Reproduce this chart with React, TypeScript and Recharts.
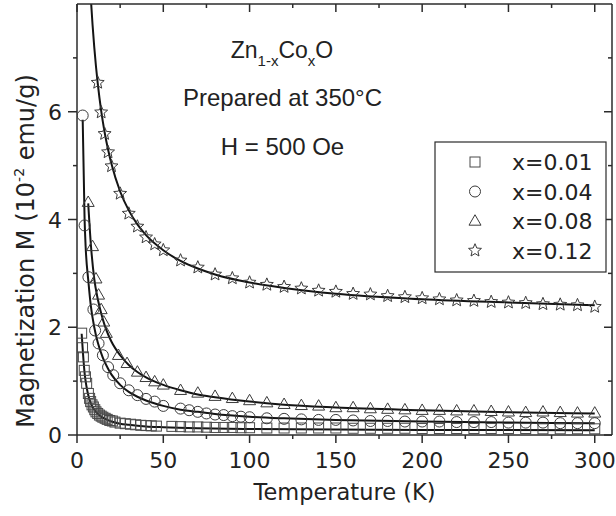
import { ComposedChart, Line, Scatter, XAxis, YAxis } from 'recharts'

// Zn(1-x)Co(x)O, prepared at 350 °C, H = 500 Oe — M(T) per Co content, with fitted curves
const sqT = [2.7, 3.2, 3.7, 4.2, 4.9, 5.6, 6.6, 7.3, 7.9, 8.7, 9.5, 10.3, 11, 12, 13, 14, 15, 16.3, 17.5, 19, 20.5, 22, 25, 28, 31, 34, 37, 40, 43, 46, 55, 60, 65, 70, 75, 80, 85, 90, 95, 100, 110, 120, 130, 140, 150, 160, 170, 180, 190, 200, 210, 220, 230, 240, 250, 260, 270, 280, 290, 300]
const sqM = [1.89, 1.62, 1.45, 1.2, 1.08, 0.96, 0.77, 0.68, 0.62, 0.56, 0.52, 0.47, 0.43, 0.4, 0.37, 0.35, 0.33, 0.31, 0.29, 0.27, 0.26, 0.24, 0.22, 0.21, 0.2, 0.19, 0.18, 0.175, 0.17, 0.165, 0.16, 0.155, 0.15, 0.15, 0.145, 0.14, 0.14, 0.14, 0.135, 0.135, 0.13, 0.13, 0.13, 0.13, 0.13, 0.125, 0.125, 0.125, 0.125, 0.12, 0.12, 0.12, 0.12, 0.12, 0.12, 0.12, 0.115, 0.115, 0.115, 0.115]

const ciT = [3.3, 4.4, 6.6, 9.5, 10.5, 12.5, 15, 18, 21, 25, 30, 35, 40, 45, 50, 60, 65, 70, 75, 80, 85, 90, 95, 100, 110, 120, 130, 140, 150, 160, 170, 180, 190, 200, 210, 220, 230, 240, 250, 260, 270, 280, 290, 300]
const ciM = [5.93, 3.89, 2.93, 2.33, 1.94, 1.7, 1.48, 1.26, 1.11, 0.96, 0.83, 0.74, 0.67, 0.62, 0.54, 0.49, 0.46, 0.43, 0.4, 0.38, 0.37, 0.35, 0.34, 0.33, 0.31, 0.3, 0.29, 0.28, 0.28, 0.27, 0.26, 0.26, 0.25, 0.25, 0.25, 0.24, 0.24, 0.24, 0.23, 0.23, 0.23, 0.22, 0.22, 0.22]

const trT = [6.5, 9, 11, 12.5, 14, 15.5, 17, 24, 29, 35, 40, 45, 50, 60, 70, 80, 90, 100, 110, 120, 130, 140, 150, 160, 170, 180, 190, 200, 210, 220, 230, 240, 250, 260, 270, 280, 290, 300]
const trM = [4.32, 3.5, 2.9, 2.6, 2.33, 2.1, 1.89, 1.48, 1.33, 1.17, 1.07, 0.99, 0.93, 0.83, 0.78, 0.72, 0.68, 0.64, 0.6, 0.57, 0.55, 0.54, 0.51, 0.51, 0.49, 0.48, 0.47, 0.46, 0.46, 0.45, 0.45, 0.44, 0.43, 0.42, 0.43, 0.42, 0.41, 0.41]

const stT = [12, 14, 16, 18, 20, 25, 30, 35, 40, 45, 50, 60, 70, 80, 90, 100, 110, 120, 130, 140, 150, 160, 170, 180, 190, 200, 210, 220, 230, 240, 250, 260, 270, 280, 290, 300]
const stM = [6.54, 5.99, 5.59, 5.25, 4.99, 4.48, 4.11, 3.87, 3.67, 3.54, 3.43, 3.24, 3.11, 2.98, 2.91, 2.83, 2.79, 2.75, 2.72, 2.68, 2.66, 2.62, 2.61, 2.58, 2.56, 2.54, 2.52, 2.5, 2.49, 2.47, 2.46, 2.45, 2.43, 2.42, 2.41, 2.38]

// fitted curves
const sqFitT = [2.7, 3.5, 4.5, 5.5, 7, 9, 11, 14, 17, 20, 25, 30, 40, 50, 70, 100, 150, 200, 300]
const sqFitM = [1.88, 1.5, 1.12, 0.9, 0.68, 0.52, 0.43, 0.34, 0.29, 0.25, 0.21, 0.19, 0.16, 0.145, 0.125, 0.11, 0.1, 0.095, 0.09]
const ciFitT = [3.3, 4.4, 5, 6.6, 8, 10, 12, 15, 18, 20, 25, 30, 35, 40, 50, 60, 70, 80, 100, 120, 150, 200, 250, 300]
const ciFitM = [5.85, 4.0, 3.5, 2.85, 2.4, 2.0, 1.72, 1.43, 1.23, 1.12, 0.93, 0.8, 0.71, 0.64, 0.54, 0.47, 0.43, 0.39, 0.34, 0.31, 0.28, 0.25, 0.23, 0.22]
const trFitT = [6.5, 8, 10, 12, 14, 16, 18, 20, 25, 30, 35, 40, 50, 60, 70, 80, 100, 120, 150, 200, 250, 300]
const trFitM = [4.3, 3.55, 2.9, 2.53, 2.26, 2.04, 1.87, 1.73, 1.48, 1.3, 1.17, 1.07, 0.93, 0.83, 0.75, 0.7, 0.62, 0.56, 0.51, 0.46, 0.42, 0.4]
const stFitT = [8, 9, 10, 11, 12, 14, 16, 18, 20, 25, 30, 35, 40, 50, 60, 70, 80, 100, 120, 150, 200, 250, 300]
const stFitM = [8.11, 7.62, 7.2, 6.84, 6.53, 6.02, 5.62, 5.3, 5.03, 4.52, 4.17, 3.91, 3.71, 3.43, 3.23, 3.09, 2.98, 2.83, 2.73, 2.62, 2.52, 2.46, 2.41]

const tTicks = [0, 25, 50, 75, 100, 125, 150, 175, 200, 225, 250, 275, 300]
const mTicks = [0, 1, 2, 3, 4, 5, 6, 7]
const legendLabels = ['x=0.01', 'x=0.04', 'x=0.08', 'x=0.12']

const zip = (t: number[], m: number[]) => t.map((v, i) => ({ t: v, m: m[i] }))

const AXIS = '#2b2b2b'
const MARK = '#3a3a3a'
const LINE = '#141414'
const SANS = '"DejaVu Sans", Verdana, sans-serif'
const ARIAL = '"Liberation Sans", Arial, sans-serif'

// marker shapes
const SquareMark = ({ cx, cy, s = 10 }: any) => (
  <rect x={cx - s / 2} y={cy - s / 2} width={s} height={s} fill="none" stroke="#4a4a4a" strokeWidth={1} />
)
const CircleMark = ({ cx, cy, r = 5.5 }: any) => (
  <circle cx={cx} cy={cy} r={r} fill="none" stroke={MARK} strokeWidth={1} />
)
const TriangleMark = ({ cx, cy, s = 12 }: any) => {
  const h = s * 0.87
  return (
    <path
      d={`M${cx},${cy - h * 0.6} L${cx + s / 2},${cy + h * 0.4} L${cx - s / 2},${cy + h * 0.4} Z`}
      fill="none"
      stroke={MARK}
      strokeWidth={1}
    />
  )
}
const StarMark = ({ cx, cy, r = 6.8 }: any) => {
  const pts: string[] = []
  for (let k = 0; k < 10; k++) {
    const a = -Math.PI / 2 + (k * Math.PI) / 5
    const rr = k % 2 === 0 ? r : r * 0.45
    pts.push(`${cx + rr * Math.cos(a)},${cy + rr * Math.sin(a)}`)
  }
  return <polygon points={pts.join(' ')} fill="none" stroke={MARK} strokeWidth={1} />
}

// axis ticks: major every 50 K / 2 units get labels, minor ones are shorter
const BottomTick = ({ x, y, payload }: any) => {
  const major = payload.value % 50 === 0
  return (
    <g>
      <line x1={x} x2={x} y1={y} y2={y + (major ? 8 : 4)} stroke={AXIS} strokeWidth={1.5} />
      {major && (
        <text x={x} y={y + 33} textAnchor="middle" fontSize={22} fill="#222" fontFamily={SANS}>
          {payload.value}
        </text>
      )}
    </g>
  )
}
const TopTick = ({ x, y, payload }: any) => {
  const major = payload.value % 50 === 0
  return <line x1={x} x2={x} y1={y} y2={y + (major ? 8 : 4)} stroke={AXIS} strokeWidth={1.5} />
}
const LeftTick = ({ x, y, payload }: any) => {
  const major = payload.value % 2 === 0
  return (
    <g>
      <line x1={x - (major ? 9 : 4)} x2={x} y1={y} y2={y} stroke={AXIS} strokeWidth={1.5} />
      {major && (
        <text x={x - 15} y={y + 8} textAnchor="end" fontSize={22} fill="#222" fontFamily={SANS}>
          {payload.value}
        </text>
      )}
    </g>
  )
}
const RightTick = ({ x, y, payload }: any) => {
  const major = payload.value % 2 === 0
  return <line x1={x - (major ? 8 : 4)} x2={x} y1={y} y2={y} stroke={AXIS} strokeWidth={1.5} />
}

const markers = [SquareMark, CircleMark, TriangleMark, StarMark]

export default function App() {
  const series = [
    { pts: zip(sqT, sqM), fit: zip(sqFitT, sqFitM), shape: SquareMark },
    { pts: zip(ciT, ciM), fit: zip(ciFitT, ciFitM), shape: CircleMark },
    { pts: zip(trT, trM), fit: zip(trFitT, trFitM), shape: TriangleMark },
    { pts: zip(stT, stM), fit: zip(stFitT, stFitM), shape: StarMark },
  ]

  return (
    <div style={{ position: 'absolute', left: 0, top: 0, width: 616, height: 516, background: '#fff' }}>
      <ComposedChart width={616} height={516} margin={{ top: 0, right: 0, bottom: 0, left: 0 }}>
        <XAxis
          dataKey="t"
          type="number"
          domain={[0, 310]}
          ticks={tTicks}
          interval={0}
          allowDataOverflow
          height={81}
          tickSize={0}
          tickMargin={0}
          tickLine={false}
          tick={<BottomTick />}
          axisLine={{ stroke: AXIS, strokeWidth: 1.5 }}
        />
        <XAxis
          xAxisId="top"
          orientation="top"
          dataKey="t"
          type="number"
          domain={[0, 310]}
          ticks={tTicks}
          interval={0}
          allowDataOverflow
          height={4}
          tickSize={0}
          tickMargin={0}
          tickLine={false}
          tick={<TopTick />}
          axisLine={{ stroke: AXIS, strokeWidth: 1.5 }}
        />
        <YAxis
          type="number"
          domain={[0, 8]}
          ticks={mTicks}
          interval={0}
          allowDataOverflow
          width={77}
          tickSize={0}
          tickMargin={0}
          tickLine={false}
          tick={<LeftTick />}
          axisLine={{ stroke: AXIS, strokeWidth: 1.5 }}
        />
        <YAxis
          yAxisId="right"
          orientation="right"
          type="number"
          domain={[0, 8]}
          ticks={mTicks}
          interval={0}
          allowDataOverflow
          width={4}
          tickSize={0}
          tickMargin={0}
          tickLine={false}
          tick={<RightTick />}
          axisLine={{ stroke: AXIS, strokeWidth: 1.5 }}
        />
        {series.map((s, i) => (
          <Scatter
            key={`pts-${i}`}
            data={s.pts}
            dataKey="m"
            shape={s.shape}
            isAnimationActive={false}
          />
        ))}
        {series.map((s, i) => (
          <Line
            key={`fit-${i}`}
            data={s.fit}
            dataKey="m"
            type="monotone"
            stroke={LINE}
            strokeWidth={2}
            dot={false}
            activeDot={false}
            isAnimationActive={false}
          />
        ))}
      </ComposedChart>

      <svg
        width={616}
        height={516}
        style={{ position: 'absolute', left: 0, top: 0, pointerEvents: 'none' }}
      >
        {/* axis titles */}
        <text x={344.5} y={500} textAnchor="middle" fontSize={22.5} fill="#222" fontFamily={SANS}>
          Temperature (K)
        </text>
        <text
          transform="translate(34,251) rotate(-90)"
          textAnchor="middle"
          fontSize={24}
          fill="#222"
          fontFamily={SANS}
        >
          Magnetization M (10
          <tspan dy={-10} fontSize={14}>-2</tspan>
          <tspan dy={10}> emu/g)</tspan>
        </text>

        {/* sample annotation */}
        <g fontFamily={ARIAL} fill="#222" textAnchor="middle">
          <text x={282} y={58} fontSize={23}>
            Zn<tspan dy={8} fontSize={15}>1-x</tspan>
            <tspan dy={-8}>Co</tspan>
            <tspan dy={8} fontSize={15}>x</tspan>
            <tspan dy={-8}>O</tspan>
          </text>
          <text x={282.5} y={106} fontSize={24}>Prepared at 350°C</text>
          <text x={282.5} y={155} fontSize={24}>H = 500 Oe</text>
        </g>

        {/* legend */}
        <rect x={435} y={142} width={171} height={130} fill="#fff" stroke={AXIS} strokeWidth={1.2} />
        {legendLabels.map((lab, i) => {
          const Mark = markers[i]
          const cy = 162 + i * 29.5
          return (
            <g key={lab}>
              <Mark cx={475} cy={cy} />
              <text x={512} y={cy + 8} fontSize={22} fill="#222" fontFamily={SANS}>
                {lab}
              </text>
            </g>
          )
        })}
      </svg>
    </div>
  )
}
